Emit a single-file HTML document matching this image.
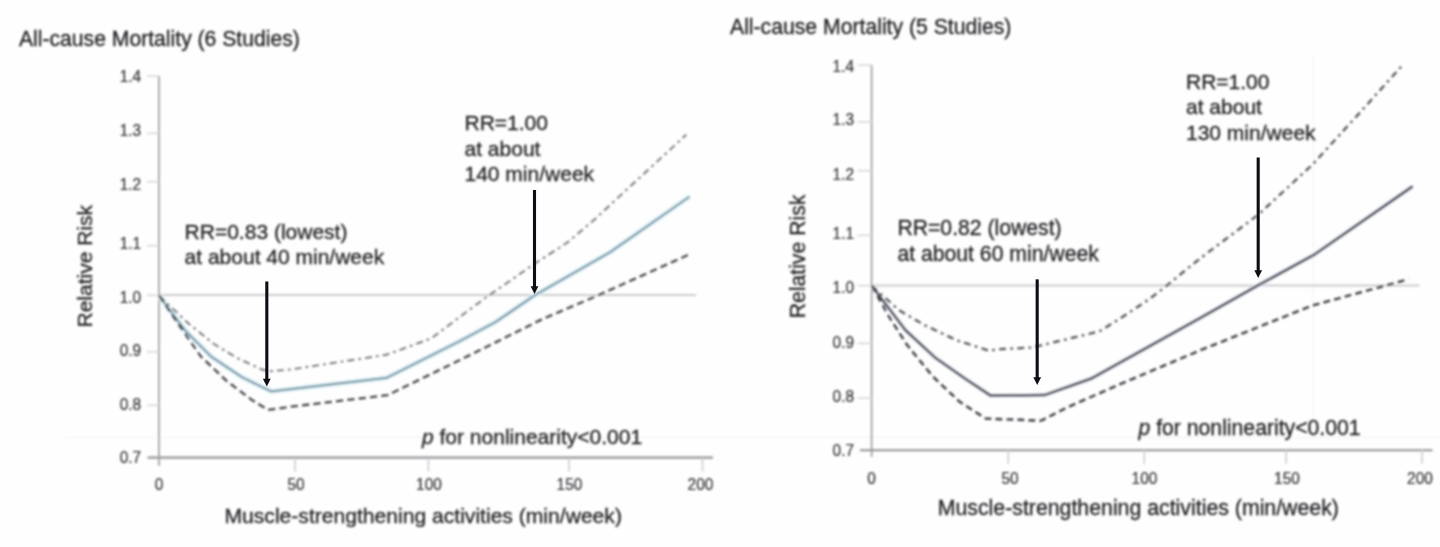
<!DOCTYPE html>
<html>
<head>
<meta charset="utf-8">
<title>All-cause Mortality dose-response</title>
<style>
  html, body { margin: 0; padding: 0; background: #fefefe; }
  body { width: 1440px; height: 547px; overflow: hidden; font-family: "Liberation Sans", sans-serif; }
  svg { display: block; }
  text { font-family: "Liberation Sans", sans-serif; }
  .t { font-size: 21px; fill: #242426; stroke: #242426; stroke-width: 0.3px; }
  .tk { font-size: 16.6px; fill: #36363a; stroke: #36363a; stroke-width: 0.22px; }
  .tk text { transform-box: fill-box; transform: scaleX(0.93); }
  .ty text { transform-origin: right center; }
  .tx text { transform-origin: center center; }
</style>
</head>
<body>
<svg width="1440" height="547" viewBox="0 0 1440 547">
  <defs>
    <filter id="bl" x="-2%" y="-2%" width="104%" height="104%">
      <feGaussianBlur stdDeviation="0.8"/>
    </filter>
    <filter id="blL" x="-2%" y="-2%" width="104%" height="104%">
      <feGaussianBlur stdDeviation="0.85"/>
    </filter>
    <filter id="blR" x="-2%" y="-2%" width="104%" height="104%">
      <feGaussianBlur stdDeviation="0.85"/>
    </filter>
    <filter id="bl2" x="-5%" y="-5%" width="110%" height="110%">
      <feGaussianBlur stdDeviation="0.55"/>
    </filter>
  </defs>
  <rect x="0" y="0" width="1440" height="547" fill="#fefefe"/>
  <g filter="url(#blL)">
    <!-- faint artifact lines -->
    <line x1="65" y1="437.5" x2="1440" y2="437.5" stroke="#f1f1f2" stroke-width="1"/>
    <line x1="1313.5" y1="55" x2="1313.5" y2="440" stroke="#f3f3f4" stroke-width="1"/>

    <!-- ================= LEFT CHART ================= -->

    <!-- reference line -->
    <line x1="159" y1="295" x2="696" y2="295" stroke="#cdcdd0" stroke-width="2"/>

    <!-- y axis -->
    <line x1="159" y1="76" x2="159" y2="466" stroke="#8c8c90" stroke-width="1.45"/>
    <g stroke="#cfcfd3" stroke-width="1.3">
      <line x1="147" y1="76" x2="159" y2="76"/>
      <line x1="147" y1="133.4" x2="159" y2="133.4"/>
      <line x1="147" y1="181.8" x2="159" y2="181.8"/>
      <line x1="147" y1="245.7" x2="159" y2="245.7"/>
      <line x1="147" y1="295.3" x2="159" y2="295.3"/>
      <line x1="147" y1="351.9" x2="159" y2="351.9"/>
      <line x1="147" y1="405.3" x2="159" y2="405.3"/>
    </g>
    <!-- x axis -->
    <line x1="147.5" y1="457.7" x2="713" y2="457.7" stroke="#a6a6aa" stroke-width="2.7"/>
    <g stroke="#cdcdd1" stroke-width="1.6">
      <line x1="295" y1="458" x2="295" y2="471.5"/>
      <line x1="428.4" y1="458" x2="428.4" y2="471.5"/>
      <line x1="569.1" y1="458" x2="569.1" y2="471.5"/>
      <line x1="702.5" y1="458" x2="702.5" y2="471.5"/>
    </g>

    <!-- main line with halo -->
    <polyline fill="none" stroke="#e2f1f8" stroke-width="5.5" stroke-linejoin="round"
      points="159.3,296 185.8,331.2 211.4,356.8 242.1,377.3 271.4,391.4 386.4,377.9 460,341 495.6,322 534.8,295.3 610,252.2 689.6,196.6"/>
    <polyline fill="none" stroke="#55808f" stroke-width="1.7" stroke-linejoin="round"
      points="159.3,296 185.8,331.2 211.4,356.8 242.1,377.3 271.4,391.4 386.4,377.9 460,341 495.6,322 534.8,295.3 610,252.2 689.6,196.6"/>

    <!-- upper CI (dash-dot) -->
    <polyline fill="none" stroke="#77777b" stroke-width="1.9" stroke-dasharray="7 4 2.8 4" stroke-linejoin="round"
      points="159.3,296 188.4,323.5 214,344 237,358 262.6,369.8 270,371.2 290,369.6 386.4,354.8 431.3,338.4 461,316 486.6,297 512.2,279.4 534.1,264 567.4,242.5 594.8,219.3 624.1,192 655,163.5 686.2,134.8"/>
    <!-- lower CI (dashed) -->
    <polyline fill="none" stroke="#46464b" stroke-width="2.3" stroke-dasharray="7.2 4.2" stroke-linejoin="round"
      points="159.3,296 180.7,327.4 201.2,356.8 226.8,381.1 252.4,400.3 268,409.9 290,406.8 387.5,395.2 460,360 542,319.3 598.3,295.2 689,254.5"/>
    <!-- annotations -->

    </g>
  <g filter="url(#blR)">
    <!-- ================= RIGHT CHART ================= -->

    <line x1="872" y1="285.5" x2="1419.5" y2="285.5" stroke="#cdcdd0" stroke-width="2"/>

    <line x1="871.6" y1="65" x2="871.6" y2="457" stroke="#939397" stroke-width="1.5"/>
    <g stroke="#cfcfd3" stroke-width="1.3">
      <line x1="857.5" y1="65" x2="872" y2="65"/>
      <line x1="857.5" y1="122" x2="872" y2="122"/>
      <line x1="857.5" y1="170.7" x2="872" y2="170.7"/>
      <line x1="857.5" y1="235.4" x2="872" y2="235.4"/>
      <line x1="857.5" y1="285.6" x2="872" y2="285.6"/>
      <line x1="857.5" y1="343.4" x2="872" y2="343.4"/>
      <line x1="857.5" y1="398.2" x2="872" y2="398.2"/>
    </g>
    <line x1="860" y1="450.3" x2="1432.5" y2="450.3" stroke="#929296" stroke-width="2.1"/>
    <g stroke="#cdcdd1" stroke-width="1.6">
      <line x1="1008.3" y1="450" x2="1008.3" y2="463.7"/>
      <line x1="1144.3" y1="450" x2="1144.3" y2="463.7"/>
      <line x1="1286.1" y1="450" x2="1286.1" y2="463.7"/>
      <line x1="1422" y1="450" x2="1422" y2="463.7"/>
    </g>

    <!-- main -->
    <polyline fill="none" stroke="#f0f2f6" stroke-width="5" stroke-linejoin="round"
      points="872,286 905.3,330 934.6,357.2 965.3,378.8 990.7,395.6 1044.5,395.1 1092.1,378.2 1200,318.2 1258,285.4 1313.4,255.2 1412.6,186.4"/>
    <polyline fill="none" stroke="#3b4051" stroke-width="2.5" stroke-linejoin="round"
      points="872,286 905.3,330 934.6,357.2 965.3,378.8 990.7,395.6 1044.5,395.1 1092.1,378.2 1200,318.2 1258,285.4 1313.4,255.2 1412.6,186.4"/>

    <!-- upper CI -->
    <polyline fill="none" stroke="#55555a" stroke-width="2.3" stroke-dasharray="6.8 4.4 2.6 4.4" stroke-linejoin="round"
      points="872,286 898,309.5 924.3,325 956.5,340.2 988.7,350.6 1000,349.2 1032.2,347.5 1099.4,331.4 1122.8,316.8 1149.1,299.2 1165.5,286.7 1187.1,268.8 1207,253.2 1258.4,214.6 1313.1,164 1360.6,111.8 1403.6,64"/>
    <!-- lower CI -->
    <polyline fill="none" stroke="#3e3e44" stroke-width="2.4" stroke-dasharray="6.8 4.2" stroke-linejoin="round"
      points="872,286 889.2,316.8 906.8,344.6 933.1,376.8 959.4,401.6 985.8,418.6 1020,419.8 1040.9,420.8 1067.3,407.4 1117,385.5 1200,350.4 1312,305.6 1408.5,279.3"/>
  </g>
  <g filter="url(#bl)">
    <g class="tk ty" text-anchor="end">
      <text x="141.2" y="82.5">1.4</text>
      <text x="141.2" y="135.7">1.3</text>
      <text x="141.2" y="189.7">1.2</text>
      <text x="141.2" y="249.4">1.1</text>
      <text x="141.2" y="302.8">1.0</text>
      <text x="141.2" y="356">0.9</text>
      <text x="141.2" y="409.8">0.8</text>
      <text x="141.2" y="463.5">0.7</text>
    </g>
    <g class="tk tx" text-anchor="middle">
      <text x="159" y="489.8">0</text>
      <text x="296" y="489.8">50</text>
      <text x="429" y="489.8">100</text>
      <text x="569.5" y="489.8">150</text>
      <text x="700.5" y="489.8">200</text>
    </g>
    <g class="tk ty" text-anchor="end">
      <text x="854" y="72">1.4</text>
      <text x="854" y="124.6">1.3</text>
      <text x="854" y="179.6">1.2</text>
      <text x="854" y="238.6">1.1</text>
      <text x="854" y="292.8">1.0</text>
      <text x="854" y="348">0.9</text>
      <text x="854" y="402">0.8</text>
      <text x="854" y="456">0.7</text>
    </g>
    <g class="tk tx" text-anchor="middle">
      <text x="871.5" y="484">0</text>
      <text x="1010" y="484">50</text>
      <text x="1144.5" y="484">100</text>
      <text x="1287" y="484">150</text>
      <text x="1420" y="484">200</text>
    </g>
    <text class="t" x="19" y="46" style="font-size:21.15px">All-cause Mortality (6 Studies)</text>
    <text class="t" x="224.5" y="522.5" style="font-size:21.1px">Muscle-strengthening activities (min/week)</text>
    <text class="t" transform="translate(92,327.5) rotate(-90)">Relative Risk</text>
    <text class="t" x="184.6" y="239">RR=0.83 (lowest)</text>
    <text class="t" x="184.6" y="264.2">at about 40 min/week</text>

    <text class="t" x="464.5" y="130">RR=1.00</text>
    <text class="t" x="464.5" y="156">at about</text>
    <text class="t" x="464.5" y="181.2">140 min/week</text>
    <text class="t" x="422" y="443.8"><tspan font-style="italic">p</tspan> for nonlinearity&lt;0.001</text>
    <text class="t" x="730" y="34" style="font-size:21.2px">All-cause Mortality (5 Studies)</text>
    <text class="t" x="937.7" y="514.7" style="font-size:21.3px">Muscle-strengthening activities (min/week)</text>
    <text class="t" transform="translate(805,318.3) rotate(-90)" style="font-size:21.2px">Relative Risk</text>
    <text class="t" x="897.4" y="235.3" style="font-size:21.2px">RR=0.82 (lowest)</text>
    <text class="t" x="897.4" y="260.8" style="font-size:21.2px">at about 60 min/week</text>

    <text class="t" x="1186" y="88.5">RR=1.00</text>
    <text class="t" x="1186" y="114.3">at about</text>
    <text class="t" x="1186" y="140.3">130 min/week</text>
    <text class="t" x="1138.5" y="435.3" style="font-size:21.2px"><tspan font-style="italic">p</tspan> for nonlinearity&lt;0.001</text>
  </g>

  <g filter="url(#bl2)">
    <line x1="266.8" y1="281.5" x2="266.8" y2="380" stroke="#111113" stroke-width="3.1"/>
    <path d="M262.9,378.7 L270.7,378.7 L266.8,386.5 Z" fill="#111113"/>
    <line x1="534.5" y1="190" x2="534.5" y2="287" stroke="#111113" stroke-width="3.1"/>
    <path d="M530.6,286.2 L538.4,286.2 L534.5,294.0 Z" fill="#111113"/>
    <line x1="1037.2" y1="279.3" x2="1037.2" y2="378" stroke="#111113" stroke-width="3.1"/>
    <path d="M1033.3,377.2 L1041.1,377.2 L1037.2,385.0 Z" fill="#111113"/>
    <line x1="1258.2" y1="157.5" x2="1258.2" y2="271" stroke="#111113" stroke-width="3.1"/>
    <path d="M1254.3,270.2 L1262.1,270.2 L1258.2,278.0 Z" fill="#111113"/>
  </g>
</svg>
</body>
</html>
